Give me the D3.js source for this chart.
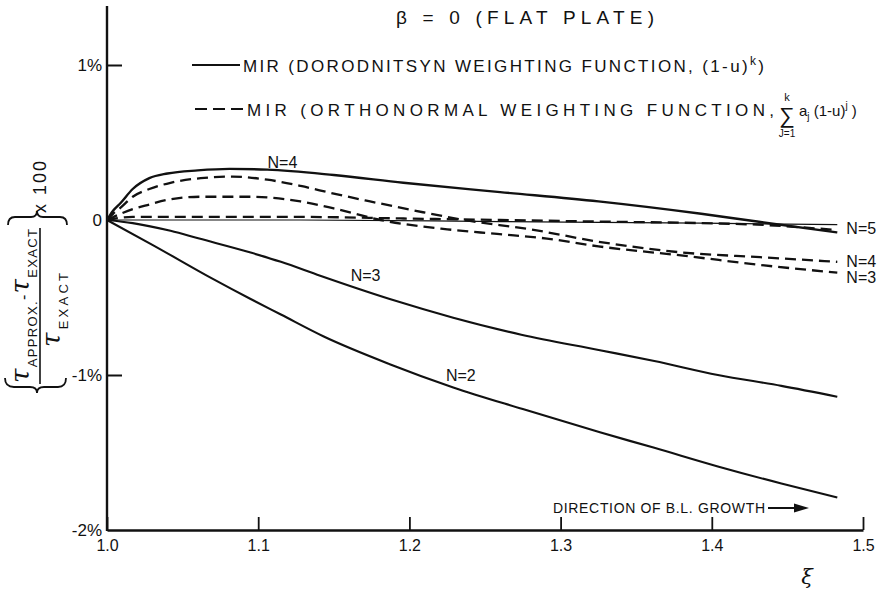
<!DOCTYPE html>
<html>
<head>
<meta charset="utf-8">
<script src="https://cdn.jsdelivr.net/npm/d3@7"></script>
<style>
body { margin: 0; background: #fff; }
svg { font-family: "Liberation Sans", Arial, sans-serif; fill: #111; }
</style>
</head>
<body>
<div class="graphic"></div>
<script>
// axis ticks
var xiTicks = [1.0, 1.1, 1.2, 1.3, 1.4, 1.5];
var xiTickLabels = ["1.0", "1.1", "1.2", "1.3", "1.4", "1.5"];
var errTicks = [1, 0, -1, -2];
var errTickLabels = ["1%", "0", "-1%", "-2%"];

// [xi, error %]
var solidN2 = [[1.000, 0], [1.030, -0.16], [1.070, -0.38], [1.095, -0.51], [1.115, -0.61], [1.143, -0.75], [1.187, -0.93], [1.229, -1.08], [1.275, -1.22], [1.326, -1.37], [1.362, -1.47], [1.404, -1.59], [1.446, -1.70], [1.483, -1.79]];
var solidN3 = [[1.000, 0], [1.017, -0.02], [1.042, -0.07], [1.061, -0.12], [1.095, -0.21], [1.115, -0.27], [1.141, -0.36], [1.187, -0.51], [1.229, -0.63], [1.274, -0.74], [1.326, -0.84], [1.362, -0.91], [1.404, -1.00], [1.446, -1.07], [1.483, -1.14]];
var solidN4 = [[1.000, 0], [1.004, 0.06], [1.009, 0.11], [1.017, 0.20], [1.028, 0.27], [1.040, 0.30], [1.060, 0.32], [1.081, 0.33], [1.106, 0.325], [1.150, 0.29], [1.196, 0.24], [1.260, 0.18], [1.325, 0.12], [1.393, 0.04], [1.430, -0.01], [1.483, -0.08]];
var solidN5 = [[1.000, 0], [1.128, 0], [1.260, -0.01], [1.393, -0.02], [1.483, -0.03]];
var dashedN4 = [[1.000, 0], [1.004, 0.04], [1.009, 0.08], [1.017, 0.15], [1.028, 0.20], [1.042, 0.24], [1.062, 0.27], [1.083, 0.28], [1.106, 0.26], [1.128, 0.22], [1.150, 0.17], [1.174, 0.12], [1.209, 0.05], [1.236, 0.00], [1.280, -0.06], [1.325, -0.14], [1.381, -0.21], [1.432, -0.24], [1.483, -0.27]];
var dashedN3 = [[1.000, 0], [1.009, 0.04], [1.017, 0.07], [1.028, 0.10], [1.040, 0.13], [1.062, 0.15], [1.095, 0.15], [1.128, 0.12], [1.150, 0.075], [1.181, 0.00], [1.225, -0.06], [1.258, -0.09], [1.291, -0.12], [1.325, -0.17], [1.381, -0.23], [1.432, -0.29], [1.483, -0.34]];
var dashedN5 = [[1.000, 0], [1.017, 0.02], [1.062, 0.02], [1.128, 0.02], [1.194, 0.01], [1.260, 0.00], [1.325, -0.01], [1.393, -0.02], [1.430, -0.03], [1.483, -0.065]];

// curve labels, anchored in data units
var curveLabels = [
    { text: "N=4", xi: 1.116, err: 0.37, anchor: "middle" },
    { text: "N=3", xi: 1.171, err: -0.355, anchor: "middle" },
    { text: "N=2", xi: 1.234, err: -1.0, anchor: "middle" },
    { text: "N=5", xi: 1.489, err: -0.05, anchor: "start" },
    { text: "N=4", xi: 1.489, err: -0.265, anchor: "start" },
    { text: "N=3", xi: 1.489, err: -0.37, anchor: "start" }
];

var width = 884, height = 589;
var ink = "#111";

var svg = d3.select(".graphic").append("svg")
    .attr("width", width)
    .attr("height", height);

var x = d3.scaleLinear().domain([1.0, 1.5]).range([107, 863]);
var y = d3.scaleLinear().domain([-2, 1]).range([530, 65]);

// y axis: tall line up to the top, ticks pointing in
var yAxis = svg.append("g")
    .attr("transform", "translate(107,0)")
    .call(d3.axisLeft(y).tickValues(errTicks).tickSize(-15).tickPadding(5)
        .tickFormat((d, i) => errTickLabels[i]));
yAxis.select(".domain").remove();
yAxis.selectAll(".tick line").attr("stroke", ink).attr("stroke-width", 2)
    .attr("opacity", d => (d == 1 || d == -1) ? 1 : 0);
yAxis.selectAll("text").attr("font-size", 17).attr("fill", ink)
    .attr("font-family", "Liberation Sans");
svg.append("line")
    .attr("x1", 107).attr("x2", 107)
    .attr("y1", y(1.38)).attr("y2", y(-2) + 1)
    .attr("stroke", ink).attr("stroke-width", 2.4);

// x axis: ticks pointing up
var xAxis = svg.append("g")
    .attr("transform", `translate(0,${y(-2)})`)
    .call(d3.axisBottom(x).tickValues(xiTicks).tickSize(-13).tickSizeOuter(0).tickPadding(10)
        .tickFormat((d, i) => xiTickLabels[i]));
xAxis.select(".domain").attr("stroke", ink).attr("stroke-width", 2.4);
xAxis.selectAll(".tick line").attr("stroke", ink).attr("stroke-width", 1.8);
xAxis.selectAll("text").attr("font-size", 16).attr("fill", ink)
    .attr("font-family", "Liberation Sans");

svg.append("text")
    .attr("x", 807).attr("y", 584)
    .attr("font-size", 21).attr("font-style", "italic")
    .attr("font-family", "DejaVu Serif")
    .attr("text-anchor", "middle")
    .text("ξ");

// curves
var line = d3.line()
    .x(d => x(d[0]))
    .y(d => y(d[1]))
    .curve(d3.curveMonotoneX);

var curves = [
    { values: solidN5, dash: null, w: 1.2 },
    { values: dashedN5, dash: "11,6", w: 2.3 },
    { values: dashedN3, dash: "11,6", w: 2.3 },
    { values: dashedN4, dash: "11,6", w: 2.3 },
    { values: solidN2, dash: null, w: 2.1 },
    { values: solidN3, dash: null, w: 2.1 },
    { values: solidN4, dash: null, w: 2.4 }
];

svg.append("g")
    .selectAll("path")
    .data(curves)
    .join("path")
    .attr("d", d => line(d.values))
    .attr("fill", "none")
    .attr("stroke", ink)
    .attr("stroke-width", d => d.w)
    .attr("stroke-dasharray", d => d.dash);

svg.append("g")
    .selectAll("text")
    .data(curveLabels)
    .join("text")
    .attr("x", d => x(d.xi))
    .attr("y", d => y(d.err))
    .attr("dy", "0.36em")
    .attr("text-anchor", d => d.anchor)
    .attr("font-size", 16)
    .text(d => d.text);

// title and legend
svg.append("text")
    .attr("x", 396).attr("y", 24)
    .attr("font-size", 19)
    .attr("textLength", 258).attr("lengthAdjust", "spacing")
    .text("β = 0 (FLAT PLATE)");

svg.append("line")
    .attr("x1", 192).attr("x2", 240).attr("y1", 65).attr("y2", 65)
    .attr("stroke", ink).attr("stroke-width", 2);
var leg1 = svg.append("text")
    .attr("x", 243).attr("y", 72)
    .attr("font-size", 17)
    .attr("textLength", 521).attr("lengthAdjust", "spacing");
leg1.append("tspan").text("MIR (DORODNITSYN WEIGHTING FUNCTION, (1-u)");
leg1.append("tspan").attr("font-size", 12).attr("dy", -7).text("k");
leg1.append("tspan").attr("dy", 7).text(")");

svg.append("line")
    .attr("x1", 195).attr("x2", 245).attr("y1", 109).attr("y2", 109)
    .attr("stroke", ink).attr("stroke-width", 2).attr("stroke-dasharray", "12,6");
svg.append("text")
    .attr("x", 247).attr("y", 116)
    .attr("font-size", 17)
    .attr("textLength", 527).attr("lengthAdjust", "spacing")
    .text("MIR (ORTHONORMAL WEIGHTING FUNCTION,");
svg.append("text")
    .attr("x", 787).attr("y", 123)
    .attr("text-anchor", "middle")
    .attr("font-size", 22)
    .text("∑");
svg.append("text")
    .attr("x", 787).attr("y", 101)
    .attr("text-anchor", "middle")
    .attr("font-size", 11)
    .text("k");
svg.append("text")
    .attr("x", 787).attr("y", 137)
    .attr("text-anchor", "middle")
    .attr("font-size", 10)
    .text("J=1");
var leg2b = svg.append("text")
    .attr("x", 799).attr("y", 116)
    .attr("font-size", 15);
leg2b.append("tspan").text("a");
leg2b.append("tspan").attr("font-size", 10).attr("dy", 4).text("j");
leg2b.append("tspan").attr("dy", -4).text(" (1-u)");
leg2b.append("tspan").attr("font-size", 10).attr("dy", -7).text("j");
leg2b.append("tspan").attr("dy", 7).text(" )");

// direction note
svg.append("text")
    .attr("x", 553).attr("y", 513)
    .attr("font-size", 14)
    .attr("textLength", 212).attr("lengthAdjust", "spacing")
    .text("DIRECTION OF B.L. GROWTH");
svg.append("line")
    .attr("x1", 768).attr("x2", 797).attr("y1", 508).attr("y2", 508)
    .attr("stroke", ink).attr("stroke-width", 2);
svg.append("path")
    .attr("d", "M794,503.5 L809,508 L794,512.5 Z")
    .attr("fill", ink);

// y label, rotated: {(tau_approx - tau_exact) / tau_exact} x 100
var ylab = svg.append("g").attr("transform", "rotate(-90)");
var num = ylab.append("text")
    .attr("x", -383).attr("y", 29)
    .attr("textLength", 154).attr("lengthAdjust", "spacing");
num.append("tspan").attr("font-size", 26).attr("font-family", "DejaVu Serif").attr("font-style", "italic").text("τ");
num.append("tspan").attr("font-size", 13).attr("dy", 8).text("APPROX.");
num.append("tspan").attr("font-size", 16).attr("dy", -8).text("-");
num.append("tspan").attr("font-size", 26).attr("font-family", "DejaVu Serif").attr("font-style", "italic").text("τ");
num.append("tspan").attr("font-size", 13).attr("dy", 8).text("EXACT");
var den = ylab.append("text")
    .attr("x", -347).attr("y", 60)
    .attr("textLength", 74).attr("lengthAdjust", "spacing");
den.append("tspan").attr("font-size", 26).attr("font-family", "DejaVu Serif").attr("font-style", "italic").text("τ");
den.append("tspan").attr("font-size", 13).attr("dy", 8).text("EXACT");
ylab.append("text")
    .attr("x", -213).attr("y", 46)
    .attr("font-size", 18)
    .attr("textLength", 52).attr("lengthAdjust", "spacing")
    .text("x 100");

svg.append("line")
    .attr("x1", 40).attr("x2", 40).attr("y1", 384).attr("y2", 228)
    .attr("stroke", ink).attr("stroke-width", 1.6);
svg.append("path")
    .attr("d", "M5,378 Q5,387 14,387 L30,387 Q37,387 37,393 Q37,387 44,387 L58,387 Q66,387 66,378")
    .attr("fill", "none").attr("stroke", ink).attr("stroke-width", 1.8);
svg.append("path")
    .attr("d", "M8,225 Q8,217 15,217 L31,217 Q37,217 37,211 Q37,217 43,217 L60,217 Q67,217 67,225")
    .attr("fill", "none").attr("stroke", ink).attr("stroke-width", 1.8);
</script>
</body>
</html>
